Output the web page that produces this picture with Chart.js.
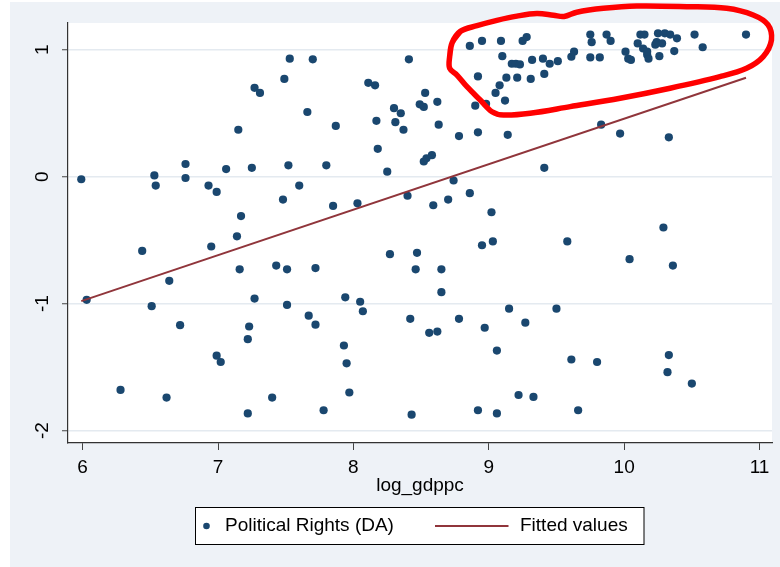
<!DOCTYPE html>
<html>
<head>
<meta charset="utf-8">
<script src="https://cdn.jsdelivr.net/npm/chart.js@4.4.1/dist/chart.umd.min.js"></script>
<style>
  html, body { margin: 0; padding: 0; background: #ffffff; }
  canvas { display: block; }
</style>
</head>
<body>
<canvas id="c" width="780" height="567"></canvas>
<script>
// ---- data ----
const xTicks = [6, 7, 8, 9, 10, 11];
const yTicks = [-2, -1, 0, 1];
const xTitle = 'log_gdppc';
const seriesName = 'Political Rights (DA)';
const fitName = 'Fitted values';

const prX = [5.99,6.53,6.54,6.76,6.76,6.93,6.99,7.06,7.17,7.15,7.25,7.27,7.31,7.49,7.53,7.52,7.48,7.60,7.70,7.66,
  7.87,7.80,7.85,8.03,8.11,8.16,8.17,8.18,8.25,8.30,8.35,8.31,8.37,8.41,8.40,8.53,8.49,8.52,8.62,8.63,
  8.52,8.54,8.58,8.59,8.70,8.74,8.78,8.86,8.92,9.02,9.14,8.90,8.98,9.12,9.05,9.08,8.92,9.13,9.21,9.31,
  9.10,9.17,9.20,9.23,8.86,8.95,9.09,9.25,9.28,9.32,9.40,9.41,9.45,9.51,9.61,9.63,9.75,9.76,9.75,9.82,
  9.87,9.90,10.01,10.03,10.05,10.12,10.15,10.10,10.14,10.17,10.18,10.25,10.30,10.34,10.39,10.24,10.28,10.23,10.17,10.26,
  10.37,10.52,10.58,10.90,9.83,9.97,10.33,9.41,10.29,9.58,10.04,10.36,
  6.03,6.44,6.28,6.51,6.64,6.62,6.72,6.95,6.99,7.02,7.14,7.16,7.27,7.23,7.22,7.22,7.40,7.43,7.51,7.51,
  7.72,7.67,7.72,7.78,7.93,7.95,7.97,7.94,8.05,8.07,8.27,8.47,8.46,8.65,8.65,8.42,8.56,8.62,8.78,8.43,
  8.95,9.03,9.15,8.97,9.06,9.27,8.92,9.06,9.22,9.33,9.50,9.61,9.80,9.66,10.33,10.32,10.50];
const prY = [-0.02,0.01,-0.07,0.10,-0.01,-0.07,-0.12,0.06,-0.31,0.37,0.07,0.70,0.66,0.77,0.93,0.09,-0.18,-0.07,0.925,0.51,
  0.40,0.09,-0.23,-0.21,0.74,0.72,0.44,0.22,0.04,0.54,0.50,0.43,0.37,0.925,-0.15,0.66,0.57,0.55,0.59,0.41,
  0.12,0.145,0.17,-0.225,-0.18,-0.03,0.32,-0.13,0.35,-0.28,0.33,0.56,0.575,0.60,0.66,0.72,0.79,0.78,0.78,0.77,
  0.95,0.89,0.89,0.885,1.03,1.07,1.07,1.07,1.10,0.92,0.93,0.81,0.89,0.91,0.945,0.985,1.12,1.06,0.94,0.94,
  1.12,1.07,0.985,0.93,0.92,1.12,1.12,1.05,1.01,0.96,0.93,1.13,1.13,1.12,1.09,1.06,1.05,1.04,0.985,0.95,
  0.99,1.12,1.02,1.12,0.41,0.34,0.31,0.07,-0.40,-0.51,-0.65,-0.70,
  -0.97,-0.585,-1.68,-1.02,-0.82,-1.74,-1.17,-0.55,-1.41,-1.46,-0.47,-0.73,-0.96,-1.18,-1.28,-1.865,-1.74,-0.70,-0.73,-1.01,
  -0.72,-1.095,-1.166,-1.84,-1.33,-1.47,-1.70,-0.95,-0.985,-1.06,-0.61,-0.60,-0.73,-0.73,-0.91,-1.12,-1.23,-1.22,-1.12,-1.875,
  -0.54,-0.51,-1.04,-1.19,-1.37,-1.15,-1.84,-1.865,-1.72,-1.735,-1.04,-1.44,-1.46,-1.84,-1.405,-1.54,-1.63];

const fitX = [5.99, 10.90];
const fitY = [-0.98, 0.78];

// hand-drawn red outline (data units), traced once around; first points repeated at the end to close smoothly
const outlineX = [8.711,8.729,8.790,8.913,9.060,9.208,9.355,9.478,9.556,9.650,9.847,10.093,10.462,10.757,10.953,11.063,11.088,
  11.027,10.904,10.707,10.339,9.970,9.601,9.306,9.109,9.024,8.937,8.839,8.765,8.711,8.711,8.729,8.790];
const outlineY = [0.946,1.054,1.145,1.190,1.232,1.265,1.285,1.272,1.262,1.296,1.327,1.345,1.340,1.327,1.274,1.196,1.077,
  0.946,0.854,0.788,0.697,0.618,0.552,0.500,0.486,0.512,0.604,0.709,0.801,0.854,0.946,1.054,1.145];

// ---- styles ----
const NAVY = '#1a476f';
const MAROON = '#90353b';
const BG = '#eef2f7';
const FONT = '"Liberation Sans", Arial, Helvetica, sans-serif';

const zip = (xs, ys) => xs.map((x, i) => ({ x: x, y: ys[i] }));

const bgPlugin = {
  id: 'bg',
  beforeDraw(chart) {
    const ctx = chart.ctx, a = chart.chartArea;
    ctx.save();
    ctx.fillStyle = '#ffffff';
    ctx.fillRect(0, 0, chart.width, chart.height);
    ctx.fillStyle = BG;
    ctx.fillRect(10, 2, chart.width - 10, chart.height - 2);
    ctx.fillStyle = '#ffffff';
    ctx.fillRect(a.left, a.top, a.right - a.left, a.bottom - a.top);
    ctx.restore();
  }
};

const yLabelPlugin = {
  id: 'ylabels',
  afterDraw(chart) {
    const ctx = chart.ctx, ys = chart.scales.y;
    ctx.save();
    ctx.fillStyle = '#000';
    ctx.font = '19px ' + FONT;
    ctx.textAlign = 'center';
    ctx.textBaseline = 'middle';
    yTicks.forEach(v => {
      const py = ys.getPixelForValue(v);
      ctx.save();
      ctx.translate(43, py);
      ctx.rotate(-Math.PI / 2);
      ctx.fillText(String(v), 0, 0);
      ctx.restore();
    });
    ctx.restore();
  }
};

const legendPlugin = {
  id: 'boxlegend',
  afterDraw(chart) {
    const ctx = chart.ctx;
    const bx = 195.5, by = 507.5, bw = 448.5, bh = 37, cy = by + bh / 2;
    ctx.save();
    ctx.fillStyle = '#ffffff';
    ctx.fillRect(bx, by, bw, bh);
    ctx.strokeStyle = '#000';
    ctx.lineWidth = 1;
    ctx.strokeRect(bx, by, bw, bh);
    ctx.fillStyle = NAVY;
    ctx.beginPath();
    ctx.arc(206.5, cy, 3.3, 0, Math.PI * 2);
    ctx.fill();
    ctx.strokeStyle = MAROON;
    ctx.lineWidth = 2;
    ctx.beginPath();
    ctx.moveTo(435, cy);
    ctx.lineTo(508.5, cy);
    ctx.stroke();
    ctx.fillStyle = '#000';
    ctx.font = '19px ' + FONT;
    ctx.textAlign = 'left';
    ctx.textBaseline = 'middle';
    ctx.fillText(seriesName, 225, cy);
    ctx.fillText(fitName, 520, cy);
    ctx.restore();
  }
};

new Chart(document.getElementById('c'), {
  type: 'scatter',
  data: {
    datasets: [
      {
        label: 'outline',
        data: zip(outlineX, outlineY),
        showLine: true,
        pointRadius: 0,
        borderColor: '#ff0000',
        borderWidth: 5.5,
        borderJoinStyle: 'round',
        borderCapStyle: 'round',
        tension: 0.35,
        fill: false,
        clip: false,
        order: 0
      },
      {
        label: fitName,
        data: zip(fitX, fitY),
        showLine: true,
        pointRadius: 0,
        borderColor: MAROON,
        borderWidth: 2,
        fill: false,
        order: 1
      },
      {
        label: seriesName,
        data: zip(prX, prY),
        pointRadius: 4.1,
        pointHoverRadius: 4.1,
        backgroundColor: NAVY,
        borderWidth: 0,
        order: 2
      }
    ]
  },
  options: {
    responsive: false,
    animation: false,
    devicePixelRatio: 1,
    layout: { padding: { top: 23, right: 8, left: 0, bottom: 0 } },
    plugins: {
      legend: { display: false },
      tooltip: { enabled: false },
      title: { display: false }
    },
    scales: {
      x: {
        type: 'linear',
        min: 5.892,
        max: 11.092,
        afterBuildTicks: s => { s.ticks = xTicks.map(v => ({ value: v })); },
        afterFit: s => { s.height = 124; },
        grid: {
          display: true,
          drawOnChartArea: false,
          drawTicks: true,
          tickLength: 7,
          tickColor: '#444',
          tickWidth: 1
        },
        border: { display: true, color: '#333', width: 1.2 },
        ticks: {
          color: '#000',
          font: { family: FONT, size: 19 },
          padding: 6,
          maxRotation: 0,
          autoSkip: false
        },
        title: {
          display: true,
          text: xTitle,
          color: '#000',
          font: { family: FONT, size: 19 },
          padding: { top: 0, bottom: 70 }
        }
      },
      y: {
        type: 'linear',
        min: -2.098,
        max: 1.211,
        afterBuildTicks: s => { s.ticks = yTicks.map(v => ({ value: v })); },
        afterFit: s => { s.width = 68; },
        grid: {
          display: true,
          drawOnChartArea: true,
          color: '#e4eaf0',
          lineWidth: 1.5,
          drawTicks: true,
          tickLength: 6,
          tickColor: '#444',
          tickWidth: 1
        },
        border: { display: true, color: '#333', width: 1.2 },
        ticks: { display: false }
      }
    }
  },
  plugins: [bgPlugin, yLabelPlugin, legendPlugin]
});
</script>
</body>
</html>
